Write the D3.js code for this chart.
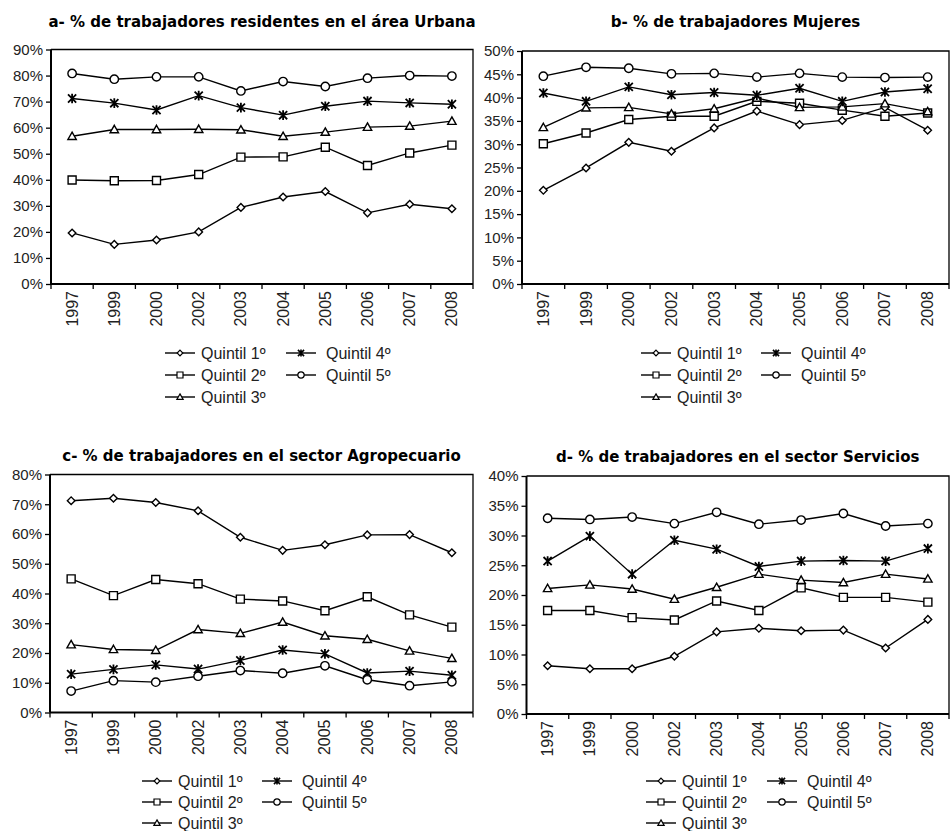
<!DOCTYPE html>
<html>
<head>
<meta charset="utf-8">
<script src="https://cdn.jsdelivr.net/npm/d3@7"></script>
<style>
  html, body { margin: 0; padding: 0; background: #fff; }
  svg { display: block; }
</style>
</head>
<body>
<svg id="chart" width="950" height="831"></svg>
<script>
// Survey years on the horizontal axis
const years = ["1997", "1999", "2000", "2002", "2003", "2004", "2005", "2006", "2007", "2008"];
const seriesNames = ["Quintil 1º", "Quintil 2º", "Quintil 3º", "Quintil 4º", "Quintil 5º"];

// a- urban residents (%), one row per quintile
const urbanaQ1 = [19.6, 15.2, 16.9, 20.0, 29.4, 33.4, 35.5, 27.3, 30.6, 28.9];
const urbanaQ2 = [39.9, 39.6, 39.7, 42.0, 48.7, 48.8, 52.5, 45.5, 50.3, 53.3];
const urbanaQ3 = [56.7, 59.3, 59.3, 59.4, 59.2, 56.7, 58.3, 60.2, 60.6, 62.5];
const urbanaQ4 = [71.2, 69.4, 66.8, 72.3, 67.7, 64.8, 68.2, 70.2, 69.5, 69.0];
const urbanaQ5 = [80.8, 78.6, 79.5, 79.5, 74.1, 77.7, 75.8, 79.0, 80.0, 79.8];

// b- women workers (%)
const mujeresQ1 = [20.1, 24.9, 30.4, 28.5, 33.5, 37.1, 34.2, 35.1, 37.9, 33.0];
const mujeresQ2 = [30.1, 32.4, 35.3, 36.0, 36.0, 39.2, 38.8, 37.3, 36.0, 36.7];
const mujeresQ3 = [33.6, 37.8, 37.9, 36.5, 37.6, 39.9, 37.9, 38.0, 38.7, 37.0];
const mujeresQ4 = [41.0, 39.2, 42.3, 40.6, 41.1, 40.5, 42.0, 39.2, 41.2, 41.9];
const mujeresQ5 = [44.6, 46.5, 46.3, 45.1, 45.2, 44.4, 45.2, 44.4, 44.3, 44.4];

// c- agriculture (%)
const agroQ1 = [71.2, 72.0, 70.6, 67.8, 58.9, 54.5, 56.4, 59.7, 59.8, 53.7];
const agroQ2 = [44.9, 39.3, 44.7, 43.3, 38.1, 37.5, 34.2, 38.9, 32.8, 28.7];
const agroQ3 = [22.8, 21.2, 20.9, 27.9, 26.6, 30.4, 25.8, 24.6, 20.7, 18.2];
const agroQ4 = [12.9, 14.5, 16.0, 14.6, 17.5, 21.0, 19.7, 13.3, 13.9, 12.5];
const agroQ5 = [7.2, 10.7, 10.2, 12.2, 14.1, 13.2, 15.7, 11.0, 9.0, 10.3];

// d- services (%)
const serviciosQ1 = [8.1, 7.6, 7.6, 9.7, 13.8, 14.4, 14.0, 14.1, 11.1, 15.9];
const serviciosQ2 = [17.4, 17.4, 16.2, 15.8, 19.0, 17.4, 21.2, 19.6, 19.6, 18.8];
const serviciosQ3 = [21.1, 21.7, 21.0, 19.3, 21.3, 23.5, 22.5, 22.1, 23.5, 22.7];
const serviciosQ4 = [25.7, 29.9, 23.5, 29.2, 27.7, 24.8, 25.7, 25.8, 25.7, 27.8];
const serviciosQ5 = [32.9, 32.7, 33.1, 32.0, 33.9, 31.9, 32.6, 33.7, 31.6, 32.0];

// y-axis tick values per panel
const ticksA = [0, 10, 20, 30, 40, 50, 60, 70, 80, 90];
const ticksB = [0, 5, 10, 15, 20, 25, 30, 35, 40, 45, 50];
const ticksC = [0, 10, 20, 30, 40, 50, 60, 70, 80];
const ticksD = [0, 5, 10, 15, 20, 25, 30, 35, 40];

const titles = [
  "a- % de trabajadores residentes en el área Urbana",
  "b- % de trabajadores Mujeres",
  "c- % de trabajadores en el sector Agropecuario",
  "d- % de trabajadores en el sector Servicios"
];

// Panel layout (pixel frames and legend anchors)
const panels = [
  { title: titles[0], series: [urbanaQ1, urbanaQ2, urbanaQ3, urbanaQ4, urbanaQ5], ticks: ticksA,
    x0: 51, x1: 473, y0: 49.5, y1: 284, titleY: 27, legX: 165, legX2: 286, legY: 353, legStep: 22 },
  { title: titles[1], series: [mujeresQ1, mujeresQ2, mujeresQ3, mujeresQ4, mujeresQ5], ticks: ticksB,
    x0: 522, x1: 949, y0: 51, y1: 284, titleY: 27, legX: 641, legX2: 761, legY: 353, legStep: 22 },
  { title: titles[2], series: [agroQ1, agroQ2, agroQ3, agroQ4, agroQ5], ticks: ticksC,
    x0: 50, x1: 473, y0: 474.5, y1: 712.5, titleY: 461, legX: 142, legX2: 262, legY: 781, legStep: 21 },
  { title: titles[3], series: [serviciosQ1, serviciosQ2, serviciosQ3, serviciosQ4, serviciosQ5], ticks: ticksD,
    x0: 526.5, x1: 949, y0: 476, y1: 714, titleY: 461.5, legX: 646, legX2: 767, legY: 781, legStep: 21 }
];

// Marker shapes: diamond, square, triangle, asterisk, circle
function markerPath(kind, s) {
  switch (kind) {
    case 0: return `M0,${-s}L${s},0L0,${s}L${-s},0Z`;
    case 1: return `M${-s},${-s}H${s}V${s}H${-s}Z`;
    case 2: return `M0,${-s * 1.05}L${s * 1.05},${s * 0.8}L${-s * 1.05},${s * 0.8}Z`;
    case 3: {
      const d = s * 0.85;
      return `M0,${-s}V${s}M${-d},${-d}L${d},${d}M${-d},${d}L${d},${-d}`;
    }
    case 4: return `M${s},0A${s},${s} 0 1,1 ${-s},0A${s},${s} 0 1,1 ${s},0Z`;
  }
}
const markerSize = [3.8, 4.0, 4.0, 4.8, 4.2];

const svg = d3.select("#chart");
const tickFont = "Arial, 'Liberation Sans', sans-serif";

panels.forEach(p => {
  const g = svg.append("g");
  const x = d3.scaleBand().domain(years).range([p.x0, p.x1]);
  const cx = d => x(d) + x.bandwidth() / 2;
  const yMax = p.ticks[p.ticks.length - 1];
  const y = d3.scaleLinear().domain([0, yMax]).range([p.y1, p.y0]);

  // title
  g.append("text")
    .attr("x", (p.x0 + p.x1) / 2)
    .attr("y", p.titleY)
    .attr("text-anchor", "middle")
    .style("font-family", "'DejaVu Sans', sans-serif")
    .style("font-weight", "bold")
    .style("font-size", "15px")
    .text(p.title);

  // frame: top and right borders
  g.append("path")
    .attr("d", `M${p.x0},${p.y0}H${p.x1}V${p.y1}`)
    .attr("fill", "none")
    .attr("stroke", "#000")
    .attr("stroke-width", 1.3);

  // y axis
  const yAxis = d3.axisLeft(y)
    .tickValues(p.ticks)
    .tickFormat(d => d + "%")
    .tickSize(5)
    .tickPadding(3);
  const ya = g.append("g").attr("transform", `translate(${p.x0},0)`).call(yAxis);
  ya.select(".domain").attr("d", `M0,${p.y0}V${p.y1}`).attr("stroke-width", 2);
  ya.selectAll(".tick line").attr("stroke-width", 1.3);
  ya.selectAll("text")
    .style("font-family", tickFont)
    .style("font-size", "15px")
    .attr("fill", "#222");

  // x axis: ticks at the category boundaries, labels rotated
  const xa = g.append("g").attr("transform", `translate(0,${p.y1})`);
  xa.append("path")
    .attr("d", `M${p.x0},0H${p.x1}`)
    .attr("stroke", "#000")
    .attr("stroke-width", 2);
  const bounds = years.map(d => x(d)).concat([p.x1]);
  xa.selectAll("line.bnd").data(bounds).join("line")
    .attr("class", "bnd")
    .attr("x1", d => d).attr("x2", d => d)
    .attr("y1", 0).attr("y2", 5)
    .attr("stroke", "#000").attr("stroke-width", 1.3);
  xa.selectAll("text").data(years).join("text")
    .attr("transform", d => `translate(${cx(d) + 5.5},7) rotate(-90)`)
    .attr("text-anchor", "end")
    .style("font-family", tickFont)
    .style("font-size", "16px")
    .attr("fill", "#222")
    .text(d => d);

  // series lines and markers
  const line = d3.line().x((v, i) => cx(years[i])).y(v => y(v));
  p.series.forEach((vals, k) => {
    g.append("path")
      .datum(vals)
      .attr("d", line)
      .attr("fill", "none")
      .attr("stroke", "#000")
      .attr("stroke-width", 1.4);
    g.selectAll(null).data(vals).join("path")
      .attr("transform", (v, i) => `translate(${cx(years[i])},${y(v)})`)
      .attr("d", markerPath(k, markerSize[k]))
      .attr("fill", k === 3 ? "none" : "#fff")
      .attr("stroke", "#000")
      .attr("stroke-width", k === 3 ? 1.8 : 1.4);
  });

  // legend: two columns (Q1-Q3 left, Q4-Q5 right)
  const leg = g.append("g");
  seriesNames.forEach((name, k) => {
    const col = k < 3 ? 0 : 1;
    const row = k < 3 ? k : k - 3;
    const lx = col === 0 ? p.legX : p.legX2;
    const ly = p.legY + row * p.legStep;
    leg.append("line")
      .attr("x1", lx).attr("x2", lx + 30)
      .attr("y1", ly).attr("y2", ly)
      .attr("stroke", "#000").attr("stroke-width", 1.4);
    leg.append("path")
      .attr("transform", `translate(${lx + 15},${ly})`)
      .attr("d", markerPath(k, markerSize[k] * 0.75))
      .attr("fill", k === 3 ? "none" : "#fff")
      .attr("stroke", "#000")
      .attr("stroke-width", k === 3 ? 1.6 : 1.2);
    leg.append("text")
      .attr("x", lx + (col === 0 ? 36 : 40))
      .attr("y", ly + 5.5)
      .style("font-family", tickFont)
      .style("font-size", "16px")
      .attr("fill", "#222")
      .text(name);
  });
});
</script>
</body>
</html>
